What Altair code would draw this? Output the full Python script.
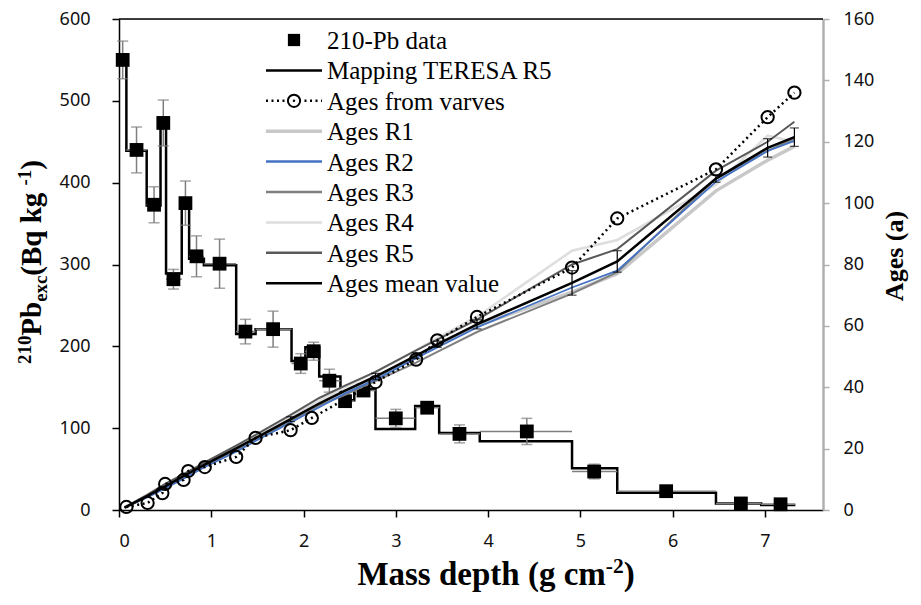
import altair as alt
import pandas as pd

# ---------------- data ----------------
# 210-Pb excess activity: measured points (x = mass depth, value, 1-sigma error)
pb_x = [0.04, 0.19, 0.38, 0.48, 0.59, 0.72, 0.84, 1.09, 1.37, 1.67, 1.97, 2.11,
        2.28, 2.45, 2.65, 3.00, 3.34, 3.69, 4.42, 5.15, 5.93, 6.74, 7.17]
pb_val = [550, 440, 373, 473, 282, 375, 310, 301, 218, 221, 179, 194,
          158, 133, 146, 112, 125, 93, 96, 47, 23, 8, 7]
pb_err = [23, 28, 22, 28, 12, 27, 25, 30, 15, 22, 12, 11,
          14, 6, 7, 11, 6, 11, 16, 9, 4, 3, 3]
# sampled layer limits (mass depth)
layer_top = [0.00, 0.08, 0.30, 0.45, 0.51, 0.68, 0.76, 0.92, 1.27, 1.48, 1.87, 2.02,
             2.17, 2.40, 2.55, 2.78, 3.21, 3.47, 3.91, 4.91, 5.40, 6.47, 6.96]
layer_bottom = [0.08, 0.30, 0.45, 0.51, 0.68, 0.76, 0.92, 1.27, 1.48, 1.87, 2.02, 2.17,
                2.40, 2.55, 2.78, 3.21, 3.47, 3.91, 4.91, 5.40, 6.47, 6.96, 7.33]
# TERESA R5 mapping (step values per layer)
model_val = [550, 439, 372, 473, 289, 378, 307, 299, 215, 221, 182, 199,
             163, 134, 148, 99, 127, 94, 84, 51, 21, 8, 6]

# Ages (right axis)
varve_x = [0.08, 0.31, 0.47, 0.50, 0.70, 0.75, 0.93, 1.27, 1.48, 1.86, 2.09,
           2.78, 3.22, 3.45, 3.88, 4.91, 5.40, 6.47, 7.03, 7.32]
varve_age = [1.0, 2.3, 5.5, 8.5, 9.8, 12.7, 14.0, 17.3, 23.5, 26.0, 30.0,
             41.7, 49.0, 55.3, 62.9, 79.0, 95.0, 111.0, 128.0, 136.0]

age_x = [0.06, 0.31, 0.50, 0.75, 0.93, 1.27, 1.48, 1.86, 2.17, 2.45, 2.78, 3.22,
         3.45, 3.88, 4.91, 5.40, 6.47, 7.03, 7.32]
age_r1 = [0.8, 4.5, 7.5, 11.5, 14.5, 19.5, 23.0, 29.0, 34.0, 38.5, 43.0, 50.0,
          54.0, 60.0, 71.0, 77.0, 104.0, 114.0, 118.5]
age_r2 = [0.8, 4.2, 7.0, 11.0, 14.0, 19.0, 22.5, 28.5, 33.5, 38.0, 42.5, 49.5,
          53.0, 59.5, 72.5, 78.0, 107.0, 117.0, 120.3]
age_r3 = [0.8, 4.5, 7.5, 11.5, 14.5, 19.5, 23.0, 29.0, 34.0, 37.5, 42.0, 48.0,
          51.5, 58.0, 70.5, 77.5, 108.0, 117.0, 121.0]
age_r4 = [0.8, 5.0, 8.2, 12.5, 15.5, 20.5, 24.0, 30.5, 35.5, 40.0, 45.0, 52.0,
          56.0, 63.0, 84.5, 88.0, 106.0, 122.0, 120.0]
age_r5 = [0.8, 5.0, 8.5, 12.5, 15.5, 21.0, 24.5, 31.0, 36.5, 40.5, 45.0, 52.0,
          55.5, 62.0, 80.0, 85.0, 110.6, 120.0, 126.5]
age_mean = [0.8, 4.6, 7.7, 11.9, 14.8, 20.1, 23.4, 29.6, 34.7, 38.9, 43.5, 50.3,
            54.0, 60.5, 74.0, 81.0, 108.0, 118.0, 121.5]
age_mean_err = [0, 0, 0, 0, 0, 0, 0, 0.8, 0, 0, 1.0, 1.0,
                1.0, 1.5, 4.0, 3.5, 1.2, 3.0, 3.0]

legend_labels = ["210-Pb data", "Mapping TERESA R5", "Ages from varves", "Ages R1",
                 "Ages R2", "Ages R3", "Ages R4", "Ages R5", "Ages mean value"]

# ---------------- layout / style ----------------
W, H = 704, 491
PAD_L, PAD_T = 119, 19
SERIF = "Liberation Serif"
SANS = "Noto Sans"

pb_df = pd.DataFrame({
    "x": pb_x, "v": pb_val,
    "lo": [v - e for v, e in zip(pb_val, pb_err)],
    "hi": [v + e for v, e in zip(pb_val, pb_err)],
    "x0": layer_top, "x1": layer_bottom,
})
step_df = pd.DataFrame({"x": layer_top + [layer_bottom[-1]],
                        "v": model_val + [model_val[-1]]})
ages_df = pd.DataFrame({"x": age_x, "r1": age_r1, "r2": age_r2, "r3": age_r3,
                        "r4": age_r4, "r5": age_r5, "m": age_mean,
                        "mlo": [a - e for a, e in zip(age_mean, age_mean_err)],
                        "mhi": [a + e for a, e in zip(age_mean, age_mean_err)],
                        "me": age_mean_err})
varve_df = pd.DataFrame({"x": varve_x, "a": varve_age})
dummy = pd.DataFrame({"d": [0]})

x_axis = alt.Axis(values=list(range(8)), title=None, grid=False,
                  domainColor="black", domainWidth=1.5, tickColor="black",
                  tickWidth=1.5, tickSize=7, labelFont=SANS, labelFontSize=18,
                  labelColor="#111111", labelPadding=15, format="d")
x_scale = alt.Scale(domain=[0, 7.63], nice=False, zero=False)
left_axis = alt.Axis(values=[0, 100, 200, 300, 400, 500, 600], title=None, grid=False,
                     domainColor="black", domainWidth=1.5, tickColor="black",
                     tickWidth=1.5, tickSize=7, labelFont=SANS, labelFontSize=18,
                     labelColor="#111111", labelPadding=22, orient="left")
left_scale = alt.Scale(domain=[0, 600], nice=False)
right_axis = alt.Axis(values=[0, 20, 40, 60, 80, 100, 120, 140, 160], title=None,
                      grid=False, domainColor="#b0b0b0", domainWidth=2.5,
                      tickColor="#b0b0b0", tickWidth=1.5, tickSize=6,
                      labelFont=SANS, labelFontSize=18, labelColor="#111111",
                      labelPadding=14, orient="right")
right_scale = alt.Scale(domain=[0, 160], nice=False)


def X(f="x"):
    return alt.X(f, type="quantitative", scale=x_scale, axis=x_axis)


def YL(f):
    return alt.Y(f, type="quantitative", scale=left_scale, axis=left_axis)


def YR(f):
    return alt.Y(f, type="quantitative", scale=right_scale, axis=right_axis)


# ---------------- 210Pb layer ----------------
pb_base = alt.Chart(pb_df)
step = alt.Chart(step_df).mark_line(interpolate="step-after", color="black",
                                    strokeWidth=2.5).encode(x=X(), y=YL("v"))
xerr = pb_base.mark_rule(color="#7f7f7f", strokeWidth=1.5).encode(
    x=X("x0"), x2="x1", y=YL("v"))
yerr = pb_base.mark_rule(color="#7f7f7f", strokeWidth=1.5).encode(
    x=X(), y=YL("lo"), y2="hi")
cap_lo = pb_base.mark_tick(orient="horizontal", size=11, thickness=1.5,
                           color="#7f7f7f").encode(x=X(), y=YL("lo"))
cap_hi = pb_base.mark_tick(orient="horizontal", size=11, thickness=1.5,
                           color="#7f7f7f").encode(x=X(), y=YL("hi"))
squares = pb_base.mark_square(size=190, color="black", opacity=1).encode(
    x=X(), y=YL("v"))
pb_layer = alt.layer(step, xerr, yerr, cap_lo, cap_hi, squares)

# ---------------- ages layer ----------------
ab = alt.Chart(ages_df)
series_style = [("r1", "#c8c8c8", 3.5), ("r4", "#dedede", 2.5), ("r3", "#808080", 2.0),
                ("r5", "#595959", 2.0), ("r2", "#4472c4", 1.8)]
age_lines = [ab.mark_line(color=c, strokeWidth=w).encode(x=X(), y=YR(f))
             for f, c, w in series_style]
mean_line = ab.mark_line(color="black", strokeWidth=2.5).encode(x=X(), y=YR("m"))
eb = ab.transform_filter("datum.me > 0")
mean_err = eb.mark_rule(color="black", strokeWidth=1.2).encode(x=X(), y=YR("mlo"), y2="mhi")
mean_cap_lo = eb.mark_tick(orient="horizontal", size=9, thickness=1.2,
                           color="black").encode(x=X(), y=YR("mlo"))
mean_cap_hi = eb.mark_tick(orient="horizontal", size=9, thickness=1.2,
                           color="black").encode(x=X(), y=YR("mhi"))
vb = alt.Chart(varve_df)
varve_line = vb.mark_line(color="black", strokeWidth=2.5, strokeDash=[2, 3.5]).encode(
    x=X(), y=YR("a"))
varve_pts = vb.mark_point(shape="circle", filled=False, size=150, strokeWidth=2,
                          color="black", opacity=1).encode(x=X(), y=YR("a"))
ages_layer = alt.layer(*age_lines, mean_line, mean_err, mean_cap_lo, mean_cap_hi,
                       varve_line, varve_pts)

# ---------------- frame (top border) ----------------
dc = alt.Chart(dummy)
top_border = dc.mark_rule(color="black", strokeWidth=1.5).encode(
    x=alt.value(0), x2=alt.value(W), y=alt.value(0))

# ---------------- legend ----------------
LX0, LX1, LTX = 266 - PAD_L, 322 - PAD_L, 327 - PAD_L
rows_y = [40 + 30.4 * i - PAD_T for i in range(len(legend_labels))]
leg = []
for lab, ry in zip(legend_labels, rows_y):
    leg.append(dc.mark_text(align="left", baseline="middle", font=SERIF, fontSize=25,
                            color="black", dy=1).encode(
        x=alt.value(LTX), y=alt.value(ry), text=alt.value(lab)))
mid = (LX0 + LX1) / 2
leg.append(dc.mark_square(size=150, color="black", opacity=1).encode(
    x=alt.value(mid), y=alt.value(rows_y[0])))
line_styles = [(1, "black", 2.5, None), (2, "black", 2.5, [2, 3.5]),
               (3, "#c8c8c8", 3.5, None), (4, "#4472c4", 2.5, None),
               (5, "#808080", 2.5, None), (6, "#dedede", 2.5, None),
               (7, "#595959", 2.5, None), (8, "black", 2.5, None)]
for i, c, w, dash in line_styles:
    kw = {"color": c, "strokeWidth": w}
    if dash:
        kw["strokeDash"] = dash
    leg.append(dc.mark_rule(**kw).encode(
        x=alt.value(LX0), x2=alt.value(LX1), y=alt.value(rows_y[i])))
leg.append(dc.mark_point(shape="circle", filled=True, fill="white", stroke="black",
                         size=150, strokeWidth=2, opacity=1).encode(
    x=alt.value(mid), y=alt.value(rows_y[2])))
leg.append(dc.mark_point(shape="circle", filled=True, color="black", size=6,
                         opacity=1).encode(x=alt.value(mid), y=alt.value(rows_y[2])))

# ---------------- axis titles (rich text built from pieces) ----------------
TB = {' ': 250, '(': 333, ')': 333, '-': 333, '0': 500, '1': 500, '2': 500,
      'A': 722, 'B': 667, 'M': 944, 'P': 611, 'a': 500, 'b': 556, 'c': 444,
      'd': 556, 'e': 444, 'g': 500, 'h': 556, 'k': 556, 'm': 833, 'p': 556,
      'q': 556, 's': 389, 't': 333, 'x': 500}


def tw(s, size):
    return sum(TB[c] for c in s) * size / 1000.0


def rich(pieces, F, anchor, along, base, vertical):
    """pieces: (text, kind) with kind n/sup/sub; returns text layers."""
    small = F * 0.65
    sizes = [F if k == "n" else small for _, k in pieces]
    total = sum(tw(t, s) for (t, _), s in zip(pieces, sizes))
    start = along - total / 2.0
    out = []
    pos = start
    for (t, k), s in zip(pieces, sizes):
        shift = {"n": 0.0, "sup": -0.36 * F, "sub": 0.2 * F}[k]
        if vertical:
            enc = dict(x=alt.value(base + shift), y=alt.value(anchor - (pos - start)))
            m = dc.mark_text(align="left", baseline="alphabetic", angle=270, font=SERIF,
                             fontWeight="bold", fontSize=s, color="black")
        else:
            enc = dict(x=alt.value(pos), y=alt.value(base + shift))
            m = dc.mark_text(align="left", baseline="alphabetic", font=SERIF,
                             fontWeight="bold", fontSize=s, color="black")
        out.append(m.encode(text=alt.value(t), **enc))
        pos += tw(t, s)
    return out, total


# bottom title
bt, _ = rich([("Mass depth (g cm", "n"), ("-2", "sup"), (")", "n")], 33,
             anchor=None, along=496 - PAD_L, base=585 - PAD_T, vertical=False)
# left title (vertical, reading bottom-to-top)
pieces_l = [("210", "sup"), ("Pb", "n"), ("exc", "sub"), (" (Bq kg", "n"),
            ("-1", "sup"), (")", "n")]
F_L = 29
sizes_l = [F_L if k == "n" else F_L * 0.65 for _, k in pieces_l]
tot_l = sum(tw(t, s) for (t, _), s in zip(pieces_l, sizes_l))
center_l = 262 - PAD_T
lt, _ = rich(pieces_l, F_L, anchor=center_l + tot_l / 2.0, along=0, base=41 - PAD_L,
             vertical=True)
rt = [dc.mark_text(align="center", baseline="alphabetic", angle=270, font=SERIF,
                   fontWeight="bold", fontSize=26, color="black").encode(
    x=alt.value(903 - PAD_L), y=alt.value(256 - PAD_T), text=alt.value("Ages (a)"))]

chart = alt.layer(pb_layer, ages_layer, top_border, *leg, *bt, *lt, *rt).resolve_scale(
    y="independent"
).properties(
    width=W, height=H,
    autosize=alt.AutoSizeParams(type="none"),
    padding={"left": PAD_L, "top": PAD_T, "right": 921 - PAD_L - W,
             "bottom": 605 - PAD_T - H},
).configure_view(stroke=None).configure(background="white")

chart.save("out.html", embed_options={"renderer": "svg", "actions": False})
